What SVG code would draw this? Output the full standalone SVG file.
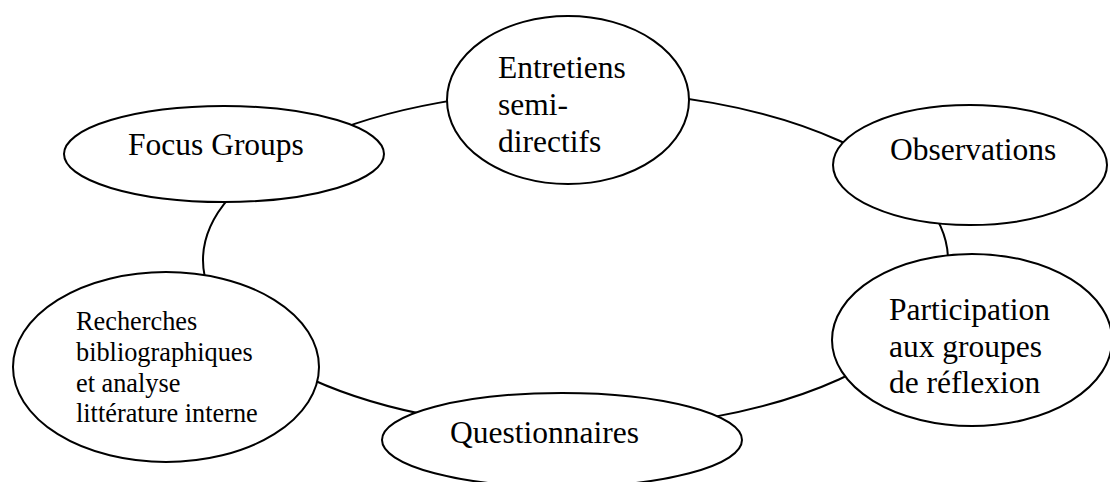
<svg xmlns="http://www.w3.org/2000/svg" width="1110" height="482" viewBox="0 0 1110 482">
<style>
.bg{fill:#fff}
.ring{fill:none;stroke:#000;stroke-width:2}
.node ellipse{fill:#fff;stroke:#000;stroke-width:2}
.t{font-family:"Liberation Serif","Times New Roman",serif;font-size:31.5px;fill:#000}
.s{font-family:"Liberation Serif","Times New Roman",serif;font-size:26.3px;fill:#000}
</style>
<rect class="bg" x="0" y="0" width="1110" height="482"/>
<g id="connectors">
<ellipse class="ring" cx="575.5" cy="260" rx="372.5" ry="169"/>
</g>
<g id="entretiens" class="node">
<ellipse cx="568" cy="100" rx="121" ry="84"/>
<text class="t" x="498" y="78">Entretiens</text>
<text class="t" x="498" y="115">semi-</text>
<text class="t" x="498" y="152">directifs</text>
</g>
<g id="focus" class="node">
<ellipse cx="224" cy="154" rx="160" ry="48"/>
<text class="t" x="128" y="155">Focus Groups</text>
</g>
<g id="observations" class="node">
<ellipse cx="970" cy="165" rx="137" ry="60"/>
<text class="t" x="890" y="160">Observations</text>
</g>
<g id="participation" class="node">
<ellipse cx="972" cy="340" rx="140" ry="86"/>
<text class="t" x="889" y="320">Participation</text>
<text class="t" x="889" y="356.5">aux groupes</text>
<text class="t" x="889" y="393">de réflexion</text>
</g>
<g id="recherches" class="node">
<ellipse cx="166" cy="367" rx="153" ry="95"/>
<text class="s" x="76" y="330">Recherches</text>
<text class="s" x="76" y="361">bibliographiques</text>
<text class="s" x="76" y="392">et analyse</text>
<text class="s" x="76" y="422">littérature interne</text>
</g>
<g id="questionnaires" class="node">
<ellipse cx="562" cy="440" rx="180" ry="47"/>
<text class="t" x="450" y="443">Questionnaires</text>
</g>
</svg>
